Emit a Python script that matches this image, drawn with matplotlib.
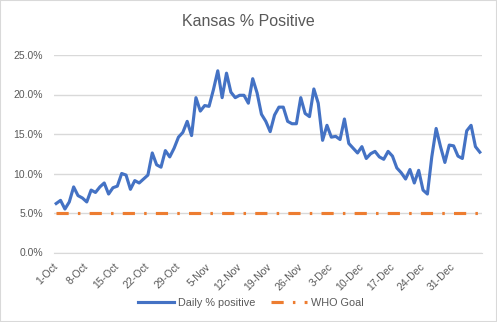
import matplotlib.pyplot as plt
from matplotlib.patches import Rectangle
import pandas as pd

# daily % positive, 1-Oct through 6-Jan
daily_pct = [6.2, 6.6, 5.5, 6.4, 8.3, 7.2, 6.9, 6.4, 7.9, 7.6,
             8.3, 8.8, 7.4, 8.2, 8.4, 10.0, 9.8, 8.0, 9.1, 8.8,
             9.3, 9.8, 12.6, 11.1, 10.8, 12.9, 12.1, 13.2, 14.6, 15.2,
             16.6, 14.8, 19.6, 17.9, 18.6, 18.5, 20.6, 23.0, 19.6, 22.7,
             20.3, 19.6, 19.9, 19.9, 18.9, 22.0, 20.2, 17.5, 16.6, 15.3,
             17.4, 18.4, 18.4, 16.6, 16.3, 16.3, 19.6, 17.6, 17.2, 20.7,
             18.9, 14.2, 16.1, 14.6, 14.7, 14.3, 16.9, 13.8, 13.2, 12.6,
             13.4, 11.9, 12.5, 12.8, 12.1, 11.8, 12.8, 12.2, 10.7, 10.1,
             9.3, 10.5, 8.8, 10.4, 7.9, 7.4, 12.1, 15.7, 13.4, 11.4,
             13.6, 13.5, 12.2, 11.9, 15.4, 16.1, 13.4, 12.7]
who_goal = 5.0
start_date = '2020-10-01'
y_ticks = [0, 5, 10, 15, 20, 25]

dates = pd.date_range(start_date, periods=len(daily_pct), freq='D')
tick_pos = list(range(0, len(dates), 7))
tick_labels = [f"{dates[i].day}-{dates[i].strftime('%b')}" for i in tick_pos]

plt.rcParams['font.family'] = ['Liberation Sans', 'DejaVu Sans']
grey = '#595959'

fig = plt.figure(figsize=(4.97, 3.22), dpi=100)
ax = fig.add_axes([54 / 497, 1 - 252.5 / 322, 428 / 497, 197.5 / 322])

x = list(range(len(daily_pct)))
ax.plot(x, [v / 100 for v in daily_pct], color='#4472C4', lw=2.25,
        solid_joinstyle='round', label='Daily % positive', zorder=3)
ax.plot(x, [who_goal / 100] * len(x), color='#ED7D31', lw=2.25,
        linestyle=(0, (3.9, 2.95, 0.8, 2.95)), label='WHO Goal', zorder=2)

ax.set_xlim(-0.5, len(x) - 0.5)
ax.set_ylim(0, 0.25)
ax.set_yticks([t / 100 for t in y_ticks])
ax.set_yticklabels([f"{t:.1f}%" for t in y_ticks])
ax.set_xticks(tick_pos)
ax.set_xticklabels(tick_labels, rotation=45, ha='right', va='center',
                   rotation_mode='anchor')
ax.tick_params(axis='both', length=0, labelsize=7.5, colors=grey)
ax.tick_params(axis='x', pad=9)
ax.tick_params(axis='y', pad=8)
ax.grid(axis='y', color='#D9D9D9', lw=1)
ax.set_axisbelow(True)
for s in ['top', 'right', 'left']:
    ax.spines[s].set_visible(False)
ax.spines['bottom'].set_color('#D9D9D9')

fig.text(0.5, 1 - 22 / 322, 'Kansas % Positive', ha='center', va='center',
         fontsize=11.5, color=grey)

leg = fig.legend(loc='center', bbox_to_anchor=(0.505, 1 - 303 / 322), ncol=2,
                 frameon=False, fontsize=7.8, handlelength=3.3,
                 columnspacing=1.4, handletextpad=0.4)
for t in leg.get_texts():
    t.set_color(grey)

fig.add_artist(Rectangle((0, 0), 1, 1, transform=fig.transFigure, fill=False,
                         edgecolor='#D9D9D9', lw=1.5))

fig.savefig('out.png', dpi=100)
